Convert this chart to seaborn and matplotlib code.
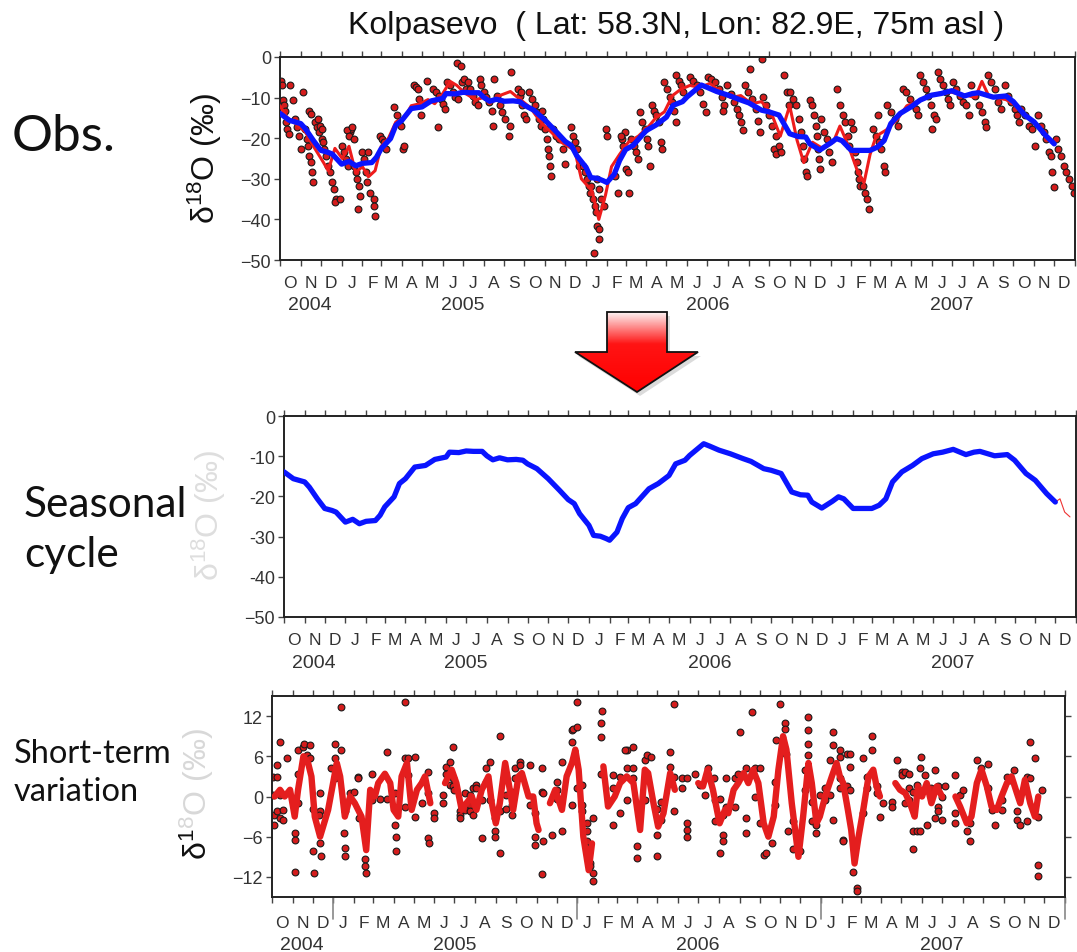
import numpy as np
import pandas as pd
import matplotlib
matplotlib.use("Agg")
import matplotlib.pyplot as plt
import matplotlib.dates as mdates
from matplotlib.ticker import FuncFormatter, FixedLocator
from matplotlib.patches import Polygon
from matplotlib.colors import LinearSegmentedColormap
import seaborn as sns

# ---------------- data ----------------
START = pd.Timestamp("2004-10-01")
END = pd.Timestamp("2008-01-01")
MONTH_LETTERS = ["J", "F", "M", "A", "M", "J", "J", "A", "S", "O", "N", "D"]
YEAR_LABELS = ["2004", "2005", "2006", "2007"]
YEAR_POS = ["2004-11-15", "2005-07-01", "2006-07-01", "2007-07-01"]
TITLE = "Kolpasevo  ( Lat: 58.3N, Lon: 82.9E, 75m asl )"

# seasonal cycle (blue)
seas_date = ["2004-10-01", "2004-10-15", "2004-11-01", "2004-11-08", "2004-11-20", "2004-12-01",
             "2004-12-12", "2004-12-18", "2005-01-01", "2005-01-12", "2005-01-22", "2005-02-01",
             "2005-02-15", "2005-02-22", "2005-03-01", "2005-03-15", "2005-03-23", "2005-04-01",
             "2005-04-15", "2005-05-01", "2005-05-15", "2005-06-01", "2005-06-06", "2005-06-20",
             "2005-07-01", "2005-07-12", "2005-07-25", "2005-08-01", "2005-08-10", "2005-08-20",
             "2005-09-01", "2005-09-14", "2005-09-24", "2005-10-01", "2005-10-15", "2005-11-01",
             "2005-11-18", "2005-12-01", "2005-12-10", "2005-12-18", "2006-01-01", "2006-01-08",
             "2006-01-18", "2006-01-27", "2006-02-01", "2006-02-12", "2006-02-20", "2006-03-01",
             "2006-03-12", "2006-04-01", "2006-04-15", "2006-05-01", "2006-05-11", "2006-05-25",
             "2006-06-01", "2006-06-22", "2006-07-01", "2006-07-15", "2006-08-01", "2006-08-20",
             "2006-09-01", "2006-09-20", "2006-10-01", "2006-10-16", "2006-11-01", "2006-11-14",
             "2006-11-25", "2006-12-01", "2006-12-16", "2007-01-01", "2007-01-10", "2007-01-18",
             "2007-02-01", "2007-02-15", "2007-03-01", "2007-03-12", "2007-03-22", "2007-04-01",
             "2007-04-15", "2007-05-01", "2007-05-15", "2007-06-01", "2007-06-15", "2007-07-01",
             "2007-07-20", "2007-08-01", "2007-08-10", "2007-09-01", "2007-09-20", "2007-10-01",
             "2007-10-18", "2007-11-01", "2007-11-18", "2007-12-01"]
seas_val = [-13.9, -15.6, -16.4, -17.7, -20.6, -23.0,
            -23.5, -23.9, -26.4, -25.7, -26.8, -26.2,
            -26.0, -24.7, -22.6, -20.1, -16.8, -15.6,
            -12.7, -12.3, -10.8, -10.2, -9.0, -9.1,
            -8.7, -8.8, -8.8, -9.9, -10.9, -10.4,
            -10.9, -10.8, -11.0, -11.9, -13.1, -15.6,
            -18.5, -20.8, -21.8, -24.3, -27.2, -29.7,
            -29.9, -30.5, -30.9, -28.9, -25.5, -22.8,
            -21.8, -18.1, -16.8, -14.8, -11.9, -11.0,
            -9.8, -6.9, -7.5, -8.5, -9.4, -10.6,
            -11.3, -13.1, -13.5, -14.3, -18.9, -19.6,
            -19.7, -21.4, -22.9, -21.2, -20.1, -20.6,
            -23.0, -23.0, -23.0, -22.2, -20.6, -16.4,
            -13.9, -12.3, -10.6, -9.4, -9.0, -8.3,
            -9.6, -9.0, -8.8, -9.9, -9.6, -11.0,
            -14.3, -16.0, -19.3, -21.4]
seas_tail_date = ["2007-12-01", "2007-12-08", "2007-12-15", "2007-12-23"]
seas_tail_val = [-21.4, -20.6, -23.9, -25.1]

# smoothed observations (red line, top panel)
obs_line_date = ["2004-10-01", "2004-10-12", "2004-10-25", "2004-11-08", "2004-11-20", "2004-12-05",
                 "2004-12-12", "2004-12-22", "2005-01-02", "2005-01-12", "2005-01-22", "2005-02-01",
                 "2005-02-10", "2005-02-20", "2005-03-01", "2005-03-12", "2005-03-23", "2005-04-05",
                 "2005-04-15", "2005-04-28", "2005-05-10", "2005-05-20", "2005-06-01", "2005-06-12",
                 "2005-06-22", "2005-07-05", "2005-07-20", "2005-08-01", "2005-08-15", "2005-08-25",
                 "2005-09-10", "2005-09-25", "2005-10-10", "2005-10-25", "2005-11-10", "2005-11-25",
                 "2005-12-05", "2005-12-15", "2005-12-25", "2006-01-10", "2006-01-20", "2006-01-30",
                 "2006-02-08", "2006-02-20", "2006-03-05", "2006-03-20", "2006-04-05", "2006-04-15",
                 "2006-04-28", "2006-05-10", "2006-05-22", "2006-06-05", "2006-06-20", "2006-07-05",
                 "2006-07-20", "2006-08-05", "2006-08-20", "2006-09-05", "2006-09-20", "2006-10-05",
                 "2006-10-18", "2006-11-01", "2006-11-12", "2006-11-22", "2006-12-05", "2006-12-20",
                 "2007-01-05", "2007-01-15", "2007-01-28", "2007-02-10", "2007-02-20", "2007-03-01",
                 "2007-03-10", "2007-03-25", "2007-04-10", "2007-04-25", "2007-05-10", "2007-05-25",
                 "2007-06-10", "2007-06-25", "2007-07-10", "2007-07-25", "2007-08-05", "2007-08-15",
                 "2007-08-25", "2007-09-05", "2007-09-20", "2007-10-05", "2007-10-20", "2007-11-05",
                 "2007-11-20", "2007-12-01"]
obs_line_val = [-12.0, -15.0, -16.5, -18.5, -22.0, -26.0,
                -28.0, -22.5, -25.0, -22.0, -28.5, -27.0,
                -29.5, -28.0, -22.0, -20.0, -16.0, -15.0,
                -12.0, -11.5, -10.5, -11.5, -9.0, -6.0,
                -7.0, -9.0, -10.5, -10.0, -11.0, -9.5,
                -8.5, -10.5, -12.5, -16.0, -18.5, -21.0,
                -22.0, -23.0, -30.0, -33.0, -40.0, -34.0,
                -27.0, -24.0, -21.0, -19.5, -17.0, -15.0,
                -13.5, -9.5, -8.0, -7.0, -7.5, -6.5,
                -8.5, -10.0, -9.5, -11.5, -11.0, -14.0,
                -19.5, -12.0, -20.5, -26.0, -21.0, -22.5,
                -21.0, -17.0, -22.0, -28.0, -31.0, -24.0,
                -19.5, -18.0, -15.5, -12.0, -11.0, -10.0,
                -9.0, -8.5, -9.0, -9.5, -10.0, -6.0,
                -9.5, -10.0, -10.5, -12.0, -14.5, -17.0,
                -19.5, -21.5]

# individual observations: day since 2004-10-01, value (permil)
obs_day = [1, 3, 5, 6, 8, 9, 11, 13, 15,
           20, 23, 26, 29, 32, 35,
           37, 40, 42, 44, 46, 48, 50,
           43, 47, 52, 55, 58,
           56, 59, 62, 63, 64,
           66, 69, 72, 75, 78, 80, 84, 82, 90,
           93, 96, 98, 101, 104, 106, 100, 103, 108, 110,
           111, 113, 115, 118, 120, 116,
           122, 125, 128, 130, 135, 132, 140, 141, 142,
           150, 153, 156, 159,
           170, 174, 177, 180, 183, 185,
           200, 203, 206, 208, 210, 220,
           229, 233, 237, 240, 244, 236, 247,
           250, 254, 258, 262, 266,
           265, 270, 272, 275, 278,
           281, 284, 288, 291, 295, 298,
           300, 304, 308, 312, 316, 318,
           320, 324, 328, 332, 336, 342, 344, 345,
           355, 358, 362, 365, 368, 360,
           372, 376, 380, 383, 386, 389,
           391, 393, 396, 398, 400, 402, 403, 404,
           407, 412, 417, 422, 426,
           434, 438, 441, 444, 447,
           453, 456, 459, 461, 463,
           465, 468, 470, 472, 474, 476, 477, 469,
           473, 476, 480, 484, 486, 488,
           500, 505, 510, 515,
           509, 512, 516, 519, 521,
           524, 528, 532, 535,
           538, 541, 545, 548, 550, 552,
           555, 558, 562, 566, 569, 571,
           574, 578, 582, 585, 588, 591,
           592, 596, 599, 602,
           612, 616, 622, 627, 632, 636,
           639, 644, 650, 656, 660, 663, 661,
           668, 673, 678, 683, 686, 689, 691, 702,
           694, 699, 705, 710, 714, 716, 720,
           721, 725, 730, 735, 740, 737, 741,
           745, 748, 753, 757, 760,
           762, 766, 771, 775, 778, 781, 783, 785, 787,
           792, 795, 798, 800, 802, 804, 805, 806,
           808, 812, 816, 820, 824,
           832, 836, 840, 844, 848, 850,
           853, 856, 858, 861, 863, 865, 866,
           871, 874, 877, 879,
           886, 890, 895, 898, 902, 904, 893,
           906, 912, 918, 923,
           930, 935, 940, 945, 950, 953,
           956, 960, 964, 968, 972, 976, 974, 979,
           982, 986, 990, 994, 997, 1000,
           1005, 1010, 1015, 1020, 1025, 1028,
           1032, 1038, 1043, 1048, 1052, 1054,
           1057, 1062, 1067, 1072, 1077,
           1082, 1087, 1092, 1097, 1101, 1104,
           1107, 1112, 1118, 1123, 1128,
           1132, 1136, 1140, 1144, 1148, 1151, 1153, 1155,
           1158, 1162, 1166, 1170, 1174, 1178, 1182, 1185]
obs_val = [-5.8, -7.0, -10.7, -11.9, -13.2, -16.1, -17.7, -18.9, -7.0,
           -10.7, -15.2, -17.3, -19.4, -22.7, -8.6,
           -17.7, -20.2, -21.8, -24.3, -25.9, -28.4, -30.9,
           -13.2, -14.0, -16.1, -17.3, -18.5,
           -15.2, -16.9, -17.7, -20.2, -21.0,
           -22.7, -24.3, -26.8, -28.4, -30.9, -32.5, -35.0, -35.8, -35.0,
           -21.8, -23.5, -25.1, -26.8, -18.5, -17.7, -18.1, -19.4, -17.3, -20.2,
           -26.8, -28.4, -30.1, -31.7, -34.2, -37.5,
           -23.5, -25.1, -28.4, -30.9, -33.4, -23.5, -35.0, -36.7, -39.1,
           -19.4, -20.2, -21.0, -22.7,
           -12.4, -14.4, -16.1, -16.9, -22.7, -21.8,
           -7.0, -7.4, -7.8, -10.3, -14.4, -5.8,
           -7.8, -8.6, -9.5, -10.3, -11.5, -17.3, -12.8,
           -6.2, -7.0, -8.6, -9.9, -10.3,
           -1.6, -2.1, -6.2, -5.4, -7.8,
           -6.2, -7.8, -9.5, -11.1, -11.9, -5.4,
           -7.0, -8.6, -9.9, -11.1, -13.2, -16.9,
           -5.4, -9.5, -11.9, -13.6, -15.2, -19.4, -16.9, -3.7,
           -7.8, -9.5, -11.9, -14.4, -15.2, -8.6,
           -8.6, -10.3, -11.9, -13.6, -15.2, -16.9,
           -13.2, -15.2, -17.7, -20.2, -22.7, -24.3, -26.8, -29.2,
           -17.7, -19.4, -20.2, -22.7, -26.4,
           -17.3, -19.4, -21.0, -22.7, -26.8,
           -26.8, -28.4, -30.1, -31.7, -33.4,
           -31.7, -35.0, -36.7, -38.3, -41.6, -42.4, -44.9, -48.2,
           -30.1, -32.5, -35.0, -36.7, -17.7, -19.4,
           -29.2, -33.4, -20.2, -18.5,
           -19.4, -21.8, -27.6, -28.4, -33.4,
           -20.2, -21.8, -23.5, -25.1,
           -13.6, -16.1, -17.7, -20.2, -21.8, -26.8,
           -11.9, -13.2, -14.4, -16.1, -21.0, -22.7,
           -6.2, -7.8, -9.9, -11.1, -13.2, -16.1,
           -4.5, -5.8, -7.0, -8.6,
           -4.9, -5.8, -7.0, -8.6, -11.5, -13.6,
           -4.9, -5.4, -6.2, -7.8, -9.9, -11.9, -13.2,
           -7.0, -9.1, -11.1, -12.8, -14.4, -16.1, -18.1, -2.9,
           -7.0, -8.6, -10.3, -12.8, -15.7, -18.5, -0.4,
           -9.9, -11.9, -14.4, -16.9, -19.4, -22.7, -23.9,
           -21.8, -23.5, -4.5, -8.6, -11.9,
           -8.6, -10.3, -11.9, -15.2, -18.5, -21.8, -25.1, -28.4, -29.2,
           -10.7, -11.9, -14.4, -16.9, -19.4, -22.7, -25.1, -27.6,
           -15.2, -18.5, -20.2, -23.5, -25.9,
           -7.8, -11.9, -14.4, -16.1, -19.4, -21.8,
           -16.1, -17.7, -23.5, -25.9, -28.4, -30.1, -31.7,
           -31.7, -33.4, -35.0, -37.5,
           -17.7, -19.4, -21.0, -22.7, -26.8, -28.4, -14.4,
           -11.9, -13.6, -15.2, -16.9,
           -7.8, -8.6, -10.3, -11.9, -12.8, -14.4,
           -4.5, -6.2, -7.8, -9.5, -11.9, -14.4, -17.7, -15.2,
           -3.7, -5.4, -7.0, -8.6, -10.3, -11.9,
           -6.2, -7.8, -9.5, -11.1, -11.9, -14.4,
           -7.0, -9.5, -11.9, -13.6, -16.1, -17.3,
           -4.5, -6.2, -7.8, -11.1, -12.8,
           -7.0, -9.5, -11.1, -12.8, -14.4, -16.1,
           -12.8, -14.4, -16.9, -17.7, -21.8,
           -14.4, -16.9, -18.5, -20.2, -23.5, -24.3, -28.4, -32.1,
           -20.2, -22.7, -24.3, -26.8, -28.4, -30.1, -31.7, -33.4]

# short-term variation: individual anomalies
anom_day = [2, 2, 3, 3, 7, 7, 7, 12, 12, 12, 17, 17, 22,
            34, 34, 35, 39, 39, 39, 47, 48, 52, 57, 57, 62, 62, 63,
            72, 72, 72, 73, 71, 89, 94, 94, 94, 104, 104, 109, 109, 110, 108,
            117, 117, 122, 129, 129, 130, 139, 139, 140, 149, 149, 162, 172, 172,
            184, 184, 185, 185, 199, 199, 199, 204, 204, 214, 214, 224, 234, 234, 235, 233,
            242, 242, 256, 256, 261, 261, 266, 266, 271, 271, 271, 272,
            281, 281, 282, 289, 289, 289, 296, 296, 296, 301, 301, 306, 306, 314, 314,
            321, 321, 326, 326, 334, 334, 334, 341, 341, 341, 351, 351, 359, 359, 359,
            364, 364, 371, 371, 386, 386, 394, 394, 394, 404, 404, 404, 406, 406, 419,
            426, 426, 426, 434, 434, 449, 449, 450, 449, 456, 456, 456, 464, 464, 464,
            471, 471, 472, 472, 476, 476, 481, 481, 481, 493, 493, 494, 493,
            511, 511, 511, 521, 521, 531, 531, 531,
            528, 541, 541, 541, 546, 546, 558, 558, 561, 568, 576, 576, 576, 583, 583,
            596, 596, 601, 601, 601, 613, 613, 621, 621, 621, 621, 633, 641, 648, 653, 661, 663, 663,
            670, 670, 675, 675, 675, 680, 680, 693, 693, 698, 700, 710, 710, 710, 718, 723, 723, 731, 731,
            736, 740, 748, 753, 753, 755, 760, 768, 768, 770, 773, 780, 780, 790,
            798, 798, 803, 803, 803, 803, 808, 808, 815, 815, 820, 828, 828, 835, 835, 840, 840, 840,
            850, 850, 850, 850, 855, 855, 860, 860, 865, 865, 865, 870, 875, 875, 885, 885, 890, 890, 898, 898,
            905, 905, 910, 915, 928, 928, 935, 943, 943, 948, 948, 953, 953, 953, 960, 960, 960, 965, 965,
            970, 970, 972, 977, 980, 980, 987, 992, 992, 997, 997, 997, 1003, 1003, 1008,
            1022, 1022, 1022, 1030, 1035, 1040, 1045, 1045, 1055, 1062, 1072, 1072, 1077, 1082, 1092, 1092,
            1100, 1105, 1110, 1115, 1115, 1120, 1130, 1130, 1135, 1135, 1142, 1147, 1147, 1147, 1152]
anom_val = [2.9, 0.2, -2.7, -4.2, 4.7, 2.9, -2.2, 8.1, 0.2, -3.2, -3.5, -2.0, 5.7,
            -5.5, -6.5, -11.2, 6.9, 3.4, -1.0, 7.4, 7.9, 6.2, 7.7, 5.7, -1.8, -8.2, -11.4,
            0.5, -2.2, -7.0, -8.9, -2.7, 4.2, 7.9, 5.7, 2.7, 13.3, 6.9, -2.2, -7.7, -8.9, -5.5,
            0.5, -0.3, 0.7, 2.9, 2.7, -3.2, -9.4, -10.4, -11.4, 3.4, -0.5, -0.3, 6.7, -0.3,
            0.5, -4.2, -6.0, -8.2, 14.1, 5.7, -1.5, 5.7, 3.2, -3.0, 5.9, -1.0, 3.7, -6.2, -6.9, 0.5,
            -2.5, -3.2, 0.2, -1.0, 4.4, 3.4, 5.2, 1.7, 7.4, 2.7, 1.5, 1.0,
            -2.2, -2.7, -3.2, 0.5, -1.5, -2.0, 0.2, -1.3, -2.2, -2.7, 1.2, 1.7, 1.2, -6.2, -0.5,
            4.2, 2.2, 5.2, -0.5, -5.2, -6.0, -3.2, -8.4, -2.2, 9.1, 0.2, -1.8, -2.7, 0.7, -1.3,
            4.2, 2.7, 5.2, 4.7, 4.7, -1.3, -6.0, -7.2, -2.5, -11.6, 0.7, 4.2, 0.5, -6.7, -5.7,
            1.0, 2.2, -0.3, -5.2, 5.2, 8.1, 9.9, 10.1, -1.3, 14.1, 10.4, 1.2, 1.7, -2.2, -1.3,
            -4.0, -5.2, -6.7, -7.7, -9.9, -10.4, -12.6, -11.4, -3.2, 8.9, 10.9, 12.8, 3.4,
            -4.2, 3.2, 1.2, -2.5, 2.9, 6.9, 4.2, -0.5,
            6.9, 7.4, 4.2, 2.7, -7.4, -9.2, 5.4, -0.5, 6.2, 5.9, -1.8, -5.7, -8.9, -0.8, -3.5,
            4.4, 6.7, 13.8, -2.2, 2.9, 2.7, 1.2, 2.7, -4.0, -5.0, -6.0, 3.4, 1.7, 0.2, 4.2, 2.7, -0.5, -3.7,
            -0.3, -8.4, -5.7, -6.7, -2.7, 2.7, -1.5, -1.5, 2.7, 3.4, 9.6, 4.2, -3.2, -5.5, 12.6, 4.2, 0.0, 4.2, -4.0,
            -8.7, -8.4, -6.9, -1.3, 2.2, 8.4, 13.8, 10.9, 10.1, 6.4, -5.2, -3.7, -7.9, -8.2,
            1.0, 4.0, 11.9, 9.9, 7.9, 6.2, -0.8, -3.7, -5.5, -4.3, 0.2, 1.2, -0.5, 5.4, 0.2, 9.6, 7.7, -3.5,
            6.9, 5.9, 2.7, 1.2, -6.5, -6.7, 6.4, 1.5, 6.4, 4.4, 1.0, -11.2, -13.6, -14.1, 5.7, -2.5, 2.9, 1.2, 9.1, 6.9,
            1.5, 0.5, -3.0, -1.0, -0.8, -1.5, 5.4, 3.7, 3.2, 3.7, -1.0, 3.4, 1.2, -0.5, 0.7, -5.2, -7.9, -5.2, 1.7,
            4.2, -5.2, 5.9, 3.2, 1.2, -4.2, 1.2, 4.0, -3.2, 1.5, -1.5, -2.2, 0.0, -3.5, 1.5,
            3.2, -2.5, -4.0, 0.2, 1.0, -5.2, -4.0, -6.7, 5.4, 4.2, 4.9, 1.2, -2.0, -4.2, -0.5, -2.0,
            2.9, 2.4, 3.9, -3.5, -2.2, -4.2, 2.9, -3.7, 8.1, 2.7, 5.7, -10.2, -11.9, -3.0, 1.0]

# short-term variation: smoothed line (gaps where no data)
anom_line_day = [4, 12, 19, 27, 34, 39, 47, 54, 59, 64, 72, 84, 97, 102, 109, 117, 124, 134, 141, 147,
                 154, 159, 169, 177, 182, 189, 194, 202, 209, 217, 224, 229, 237,
                 259, 269, 276, 284, 291, 299, 306, 314, 324, 329, 335, 341, 349, 356, 361, 369, 374,
                 384, 391, 396, 399,
                 416, 424, 434, 441, 449, 454, 459, 466, 474, 479,
                 496, 503, 513, 521, 531, 541, 551, 558, 563, 571, 578, 586, 596, 603,
                 638, 645, 652, 660, 670, 678, 683, 691, 698, 706, 713, 720, 728, 736, 743, 751, 758,
                 765, 770, 778, 783, 788, 795, 803, 808, 815, 820, 828, 838, 845, 850, 855, 862, 867,
                 872, 878, 885, 893, 900, 905, 910,
                 933, 940, 948, 955, 962, 967, 973, 980, 987, 995, 1003,
                 1023, 1030, 1040, 1047, 1055, 1062, 1070, 1077, 1085, 1092, 1100, 1107, 1115, 1120,
                 1127, 1135, 1142, 1147]
anom_line_val = [0, 1, 0, 1, -3, 1, 6, 5, 3, -3, -6, -2, 5, 3, -3, 0, -1, -3, -8, 1,
                 0, 2, 3.4, 2, -2, -3, 3, 5, -2, 1, 2, 3, -1,
                 2, 4, 2, -2, -1, 0, -2, 1, 3, -1, -4, -1, 5, 1, -2, 3, 3.5,
                 0, 0, -4, -5,
                 -1, 1, -2, 3, 5, 7, 4, -6, -11, -7,
                 4.5, -1.5, 0, 2, 3, 2, -5, 4, 3.5, -1, -4.5, -2.5, 3.5, 1,
                 2, 1.5, 4, 1, -4, -2, -2.5, 1, 2, 3.5, 2, 4, 2, -4, -6, -3, 4,
                 9, 7, -1, -5, -9, -3, 5, 2, -4, -3, 0, 3, 5, 3, 2, -2, -5,
                 -10, -6, -2, 3, 4, 1.5, 0,
                 2, 1, 0.5, -1, -3, 1.5, 0, 2, -1, 1.5, 0,
                 0, -1.5, -4, -3, 2, 4, 1.5, -1.5, -2, 0, 2, 3, 0.5, -1,
                 2.5, -1, -3, 0]


def to_dates(days):
    return START + pd.to_timedelta(np.asarray(days, dtype=float), unit="D")


seas_df = pd.DataFrame({"date": pd.to_datetime(seas_date), "val": seas_val})
tail_df = pd.DataFrame({"date": pd.to_datetime(seas_tail_date), "val": seas_tail_val})
obsl_df = pd.DataFrame({"date": pd.to_datetime(obs_line_date), "val": obs_line_val})
obs_df = pd.DataFrame({"date": to_dates(obs_day), "val": obs_val})
anom_df = pd.DataFrame({"date": to_dates(anom_day), "val": anom_val})
al_days = np.asarray(anom_line_day)
seg = np.concatenate([[0], np.cumsum(np.diff(al_days) > 15)])
anoml_df = pd.DataFrame({"date": to_dates(anom_line_day), "val": anom_line_val, "seg": seg})

# ---------------- style ----------------
sns.set_style("ticks")
plt.rcParams["font.family"] = ["Liberation Sans", "DejaVu Sans"]
plt.rcParams["mathtext.fontset"] = "custom"
plt.rcParams["mathtext.rm"] = "Liberation Sans"
plt.rcParams["mathtext.it"] = "Liberation Sans:italic"
plt.rcParams["mathtext.default"] = "regular"

W, H = 1077, 953
fig = plt.figure(figsize=(W / 100, H / 100), dpi=100)
fig.patch.set_facecolor("white")


def px_axes(left, top, right, bottom):
    return fig.add_axes([left / W, 1 - bottom / H, (right - left) / W, (bottom - top) / H])


ax1 = px_axes(280, 58, 1075, 261)
ax2 = px_axes(284, 417, 1076, 618)
ax3 = px_axes(272, 697, 1065, 898)

PT_RED = "#d41c1c"
LINE_RED = "#ee1c1c"
BLUE = "#0a14ff"

# top panel
sns.scatterplot(data=obs_df, x="date", y="val", ax=ax1, s=24, color=PT_RED,
                edgecolor="#1a1a1a", linewidth=0.8, zorder=2)
sns.lineplot(data=obsl_df, x="date", y="val", ax=ax1, color=LINE_RED, lw=2.2, zorder=3)
sns.lineplot(data=seas_df, x="date", y="val", ax=ax1, color=BLUE, lw=3.8, zorder=4)

# middle panel
sns.lineplot(data=tail_df, x="date", y="val", ax=ax2, color="#ee3333", lw=0.8, zorder=2)
sns.lineplot(data=seas_df, x="date", y="val", ax=ax2, color=BLUE, lw=3.8, zorder=3)

# bottom panel
sns.scatterplot(data=anom_df, x="date", y="val", ax=ax3, s=24, color=PT_RED,
                edgecolor="#1a1a1a", linewidth=0.8, zorder=2)
sns.lineplot(data=anoml_df, x="date", y="val", units="seg", estimator=None, ax=ax3,
             color="#e41e1e", lw=4.6, zorder=3)


def month_letter(x, pos):
    return MONTH_LETTERS[mdates.num2date(x).month - 1]


def style_axis(ax, month_pad, year_off):
    ax.set_xlabel("")
    ax.set_ylabel("")
    ax.set_xlim(START, END)
    ax.xaxis.set_major_locator(mdates.MonthLocator())
    ax.xaxis.set_major_formatter(plt.NullFormatter())
    ax.xaxis.set_minor_locator(mdates.MonthLocator(bymonthday=16))
    ax.xaxis.set_minor_formatter(FuncFormatter(month_letter))
    ax.tick_params(axis="x", which="major", direction="out", length=4.5, width=1.0,
                   top=True, bottom=True, color="#444444")
    ax.tick_params(axis="x", which="minor", length=0, pad=month_pad, labelsize=12.5,
                   labelcolor="#333333", top=False)
    ax.tick_params(axis="y", direction="out", length=4.5, width=1.0, color="#444444",
                   labelsize=13, labelcolor="#333333", pad=2)
    for sp in ax.spines.values():
        sp.set_visible(True)
        sp.set_linewidth(1.4)
        sp.set_color("#222222")
    for lab, pos in zip(YEAR_LABELS, YEAR_POS):
        ax.annotate(lab, xy=(mdates.date2num(pd.Timestamp(pos)), 0),
                    xycoords=ax.get_xaxis_transform(), xytext=(0, -year_off),
                    textcoords="offset points", ha="center", va="center",
                    fontsize=14, color="#333333", annotation_clip=False)


style_axis(ax1, 11.0, 32.0)
style_axis(ax2, 11.0, 32.6)
style_axis(ax3, 13.0, 34.0)

ax1.set_ylim(-50, 0)
ax1.yaxis.set_major_locator(FixedLocator([0, -10, -20, -30, -40, -50]))
ax2.set_ylim(-50, 0)
ax2.yaxis.set_major_locator(FixedLocator([0, -10, -20, -30, -40, -50]))
ax2.set_yticklabels(["0", "-10", "-20", "-30", "-40", "\u221250"])
ax3.set_ylim(-15, 15)
ax3.yaxis.set_major_locator(FixedLocator([-12, -6, 0, 6, 12]))
ax3.tick_params(axis="y", right=True)

# year-boundary long ticks in bottom panel
for yb in ["2005-01-01", "2006-01-01", "2007-01-01", "2008-01-01"]:
    ax3.axvline(pd.Timestamp(yb), ymin=-0.11, ymax=0, color="#888888", lw=1.2, clip_on=False)

# titles and labels
YLAB = "δ$^{18}$O (‰)"
fig.text(676 / W, 1 - 26 / H, TITLE, ha="center", va="center", fontsize=23, color="#111111")
fig.text(205 / W, 1 - 158 / H, YLAB, rotation=90, ha="center", va="center",
         fontsize=23, color="#111111")
fig.text(209 / W, 1 - 515 / H, YLAB, rotation=90, ha="center", va="center",
         fontsize=23, color="#dedede")

# bottom label: "δ1" dark, the rest light grey
renderer = fig.canvas.get_renderer()
x0, y0 = 207 / W, 1 - 860 / H
t_dark = fig.text(x0, y0, "δ$^{1}$", rotation=90, rotation_mode="anchor",
                  ha="left", va="baseline", fontsize=23, color="#111111")
ext = t_dark.get_window_extent(renderer)
fig.text(x0, y0 + ext.height / H, "${}^{8}$O (‰)", rotation=90, rotation_mode="anchor",
         ha="left", va="baseline", fontsize=23, color="#d8d8d8")

fig.text(12 / W, 1 - 137 / H, "Obs.", ha="left", va="center", fontsize=37,
         family="Lato", color="#111111")
fig.text(24 / W, 1 - 530 / H, "Seasonal\ncycle", ha="left", va="center", fontsize=30.5,
         family="Lato", color="#111111", linespacing=1.38)
fig.text(14 / W, 1 - 773 / H, "Short-term\nvariation", ha="left", va="center", fontsize=23.5,
         family="Lato", color="#111111", linespacing=1.33)

# decorative arrow
oax = fig.add_axes([0, 0, 1, 1])
oax.set_xlim(0, W)
oax.set_ylim(H, 0)
oax.axis("off")
oax.patch.set_alpha(0)
verts = [(607, 313), (667, 313), (667, 353), (698, 353), (637, 393), (575, 353), (607, 353)]
shadow = Polygon([(x + 3, y + 4) for x, y in verts], closed=True, facecolor="#999999",
                 edgecolor="none", alpha=0.35)
oax.add_patch(shadow)
poly = Polygon(verts, closed=True, facecolor="none", edgecolor="#111111", lw=1.3, zorder=3)
oax.add_patch(poly)
cmap = LinearSegmentedColormap.from_list("arrow", [(0, "#fdf2f2"), (0.4, "#ff1414"), (1, "#ff0000")])
grad = np.linspace(0, 1, 200)[:, None]
im = oax.imshow(grad, extent=(575, 698, 393, 313), cmap=cmap, aspect="auto", zorder=2,
                interpolation="bilinear")
im.set_clip_path(poly)

fig.savefig("out.png", dpi=100)
